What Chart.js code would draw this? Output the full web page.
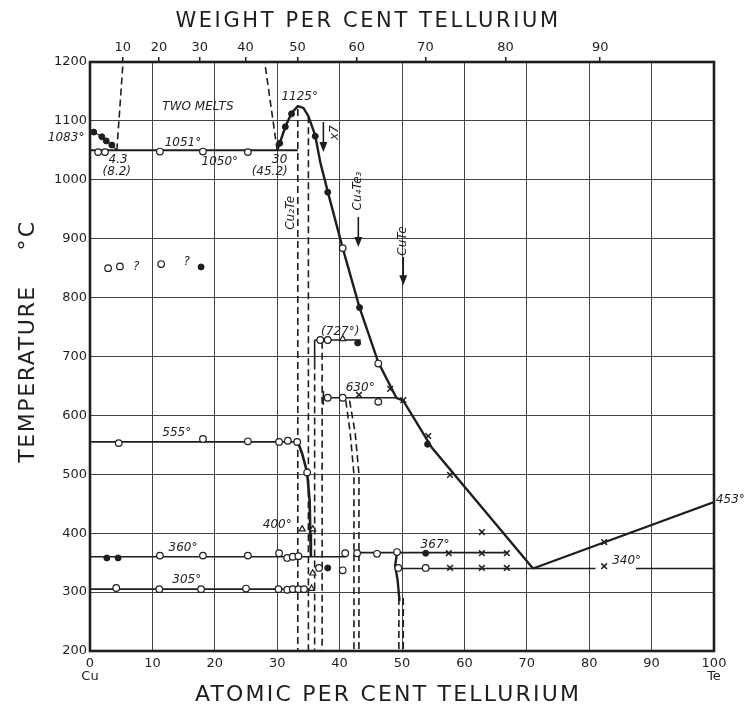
<!DOCTYPE html>
<html>
<head>
<meta charset="utf-8">
<script src="https://cdn.jsdelivr.net/npm/chart.js@4.4.0/dist/chart.umd.min.js"></script>
<style>body{margin:0;background:#fff}</style>
</head>
<body>
<canvas id="chart" width="753" height="707"></canvas>
<script>
// axis ticks
var atomicTicks = [0, 10, 20, 30, 40, 50, 60, 70, 80, 90, 100];
var weightTicks = [10, 20, 30, 40, 50, 60, 70, 80, 90];
var tempTicks = [200, 300, 400, 500, 600, 700, 800, 900, 1000, 1100, 1200];

// solid curves [at% Te, deg C]
var cuLiquidus = [[0, 1083], [0.6, 1081], [1.9, 1073], [2.6, 1066], [3.5, 1059], [4.3, 1050]];
var monotectic = [[0, 1050], [33.3, 1050]];
var cu2teLiquidus = [[30, 1050], [30.6, 1068], [31.3, 1090], [32.3, 1113], [33.3, 1125], [34.2, 1122], [35, 1108],
    [36.1, 1075], [36.9, 1030], [38.1, 980], [40.5, 884], [43.2, 783], [46.2, 690], [49.1, 630], [50.2, 625],
    [54.8, 545], [71, 340]];
var teLiquidus = [[71, 340], [100, 453]];
var line555 = [[0, 555], [33.3, 555]];
var solvus555 = [[33.3, 555], [34, 535], [34.8, 503], [35.2, 455], [35.3, 400], [35.4, 360]];
var line727 = [[36, 728], [43.4, 728]];
var stub727 = [[36, 728], [36, 690]];
var line630 = [[37.4, 630], [49.1, 630]];
var stub630 = [[37.4, 642], [37.4, 618]];
var line360 = [[0, 360], [41, 360]];
var line367 = [[42.3, 367], [67, 367]];
var line340a = [[49.4, 340], [81, 340]];
var line340b = [[87.5, 340], [100, 340]];
var line305 = [[0, 305], [36, 305]];
var cuteSolvus = [[49.2, 366], [48.9, 345], [49.3, 320], [49.6, 285]];

// dashed boundaries
var gapLeft = [[4.3, 1050], [5.3, 1200]];
var gapRight = [[30, 1050], [28, 1200]];
var dashA = [[33.3, 1120], [33.3, 200]];
var dashB = [[35, 1108], [35, 200]];
var dashC = [[36, 690], [36, 200]];
var dashD = [[37.2, 725], [37.2, 200]];
var dashE = [[41, 625], [41.7, 570], [42.3, 500], [42.3, 200]];
var dashF = [[41.6, 625], [42.5, 570], [43.1, 500], [43.1, 200]];
var dashG = [[49.5, 290], [49.5, 200]];
var dashH = [[50.2, 290], [50.2, 200]];

// measured points
var filledPts = [[0.6, 1081], [1.9, 1073], [2.6, 1066], [3.5, 1059], [30.4, 1062], [31.3, 1090], [32.3, 1112],
    [36.1, 1074], [38.1, 979], [43.2, 783], [54.1, 551], [42.9, 723], [38.1, 341], [2.7, 358], [4.5, 358],
    [17.8, 852], [53.8, 366]];
var openPts = [[40.5, 884], [46.2, 688], [1.3, 1047], [2.4, 1047], [11.2, 1048], [18.1, 1048], [25.3, 1047],
    [4.6, 553], [18.1, 560], [25.3, 556], [30.3, 555], [31.7, 557], [33.2, 555], [34.8, 503],
    [36.9, 728], [38.1, 728], [38.1, 630], [40.5, 630], [46.2, 623],
    [11.2, 362], [18.1, 362], [25.3, 362], [30.3, 366], [31.6, 358], [32.5, 360], [33.4, 361],
    [36.7, 341], [40.5, 337], [40.9, 366], [42.8, 366], [46, 365], [49.2, 368],
    [4.2, 307], [11.1, 305], [17.8, 305], [25, 306], [30.2, 305], [31.6, 304], [32.5, 305], [33.4, 305], [34.3, 305],
    [49.4, 341], [53.8, 341], [2.9, 850], [4.8, 853], [11.4, 857]];
var crossPts = [[43.1, 635], [48.1, 645], [50.2, 626], [54.2, 565], [57.7, 499], [62.8, 402], [57.5, 366],
    [62.8, 366], [66.8, 366], [57.7, 341], [62.8, 341], [66.8, 341], [82.4, 344], [82.4, 385]];
var triPts = [[40.5, 730], [34, 407], [35.7, 407], [35.7, 332], [35.5, 306]];

// text on the chart [text, at%, deg C, align]
var notes = [
    ['1083°', -0.9, 1072, 'right'], ['TWO MELTS', 17.3, 1124], ['1125°', 33.6, 1140],
    ['1051°', 14.9, 1062], ['1050°', 20.8, 1030], ['4.3', 4.5, 1034], ['(8.2)', 4.3, 1013],
    ['30', 30.4, 1034], ['(45.2)', 28.8, 1013], ['555°', 13.9, 570], ['(727°)', 40.1, 742],
    ['630°', 43.3, 647], ['400°', 30, 414], ['360°', 14.9, 375], ['305°', 15.5, 321],
    ['367°', 55.3, 380], ['340°', 86, 353], ['453°', 100.3, 456, 'left'], ['?', 7.4, 853], ['?', 15.5, 860]
];
var sideNotes = [['Cu₂Te', 32.2, 944], ['Cu₄Te₃', 43, 981], ['CuTe', 50.2, 896], ['x7', 39.3, 1080]];
var arrows = [[37.4, 1098, 1047], [43, 937, 886], [50.2, 869, 821]];
var elements = [['Cu', 0, 157], ['Te', 100, 157]];

function wtToAt(w) {
    var te = w / 127.6, cu = (100 - w) / 63.55;
    return te / (te + cu) * 100;
}
function pts(a) { return a.map(function (p) { return { x: p[0], y: p[1] }; }); }

var ink = '#1e1e1e';
function solid(a, w) {
    return { data: pts(a), showLine: true, borderColor: ink, borderWidth: w || 1.6, pointRadius: 0, order: 2 };
}
function dashed(a) {
    return { data: pts(a), showLine: true, borderColor: ink, borderWidth: 1.6, borderDash: [7, 4], pointRadius: 0, order: 2 };
}

var datasets = [
    { data: pts(filledPts), pointStyle: 'circle', pointRadius: 3, backgroundColor: ink, borderColor: ink, order: 0 },
    { data: pts(openPts), pointStyle: 'circle', pointRadius: 3.3, backgroundColor: '#fff', borderColor: ink, borderWidth: 1.2, order: 0 },
    { data: pts(crossPts), pointStyle: 'crossRot', pointRadius: 4, borderColor: ink, borderWidth: 1.5, order: 0 },
    { data: pts(triPts), pointStyle: 'triangle', pointRadius: 3.5, backgroundColor: '#fff', borderColor: ink, borderWidth: 1.2, order: 0 },
    solid(cuLiquidus, 1.2), solid(monotectic, 2), solid(cu2teLiquidus, 2.4), solid(teLiquidus, 2.2),
    solid(line555), solid(solvus555, 2.6), solid(line727), solid(stub727), solid(line630), solid(stub630),
    solid(line360), solid(line367), solid(line340a), solid(line340b), solid(line305), solid(cuteSolvus, 2.4),
    dashed(gapLeft), dashed(gapRight), dashed(dashA), dashed(dashB), dashed(dashC), dashed(dashD),
    dashed(dashE), dashed(dashF), dashed(dashG), dashed(dashH)
];

var hand = { family: 'DejaVu Sans', size: 13 };

var paperText = {
    id: 'paperText',
    afterDatasetsDraw: function (chart) {
        var ctx = chart.ctx, a = chart.chartArea;
        var sx = chart.scales.x, sy = chart.scales.y;
        ctx.save();
        ctx.strokeStyle = ink;
        ctx.lineWidth = 2.6;
        ctx.strokeRect(a.left, a.top, a.right - a.left, a.bottom - a.top);

        ctx.fillStyle = ink;
        ctx.textBaseline = 'middle';
        ctx.font = 'italic 12px "DejaVu Sans"';
        notes.forEach(function (n) {
            ctx.textAlign = n[3] || 'center';
            ctx.fillText(n[0], sx.getPixelForValue(n[1]), sy.getPixelForValue(n[2]));
        });
        ctx.font = '13px "DejaVu Sans"';
        ctx.textAlign = 'center';
        elements.forEach(function (n) {
            ctx.fillText(n[0], sx.getPixelForValue(n[1]), sy.getPixelForValue(n[2]));
        });
        ctx.font = 'italic 12px "DejaVu Sans"';
        sideNotes.forEach(function (n) {
            ctx.save();
            ctx.translate(sx.getPixelForValue(n[1]), sy.getPixelForValue(n[2]));
            ctx.rotate(-Math.PI / 2);
            ctx.fillText(n[0], 0, 0);
            ctx.restore();
        });
        ctx.lineWidth = 1.6;
        arrows.forEach(function (r) {
            var x = sx.getPixelForValue(r[0]), y1 = sy.getPixelForValue(r[1]), y2 = sy.getPixelForValue(r[2]);
            ctx.beginPath();
            ctx.moveTo(x, y1);
            ctx.lineTo(x, y2 - 8);
            ctx.stroke();
            ctx.beginPath();
            ctx.moveTo(x - 4, y2 - 10);
            ctx.lineTo(x + 4, y2 - 10);
            ctx.lineTo(x, y2);
            ctx.closePath();
            ctx.fill();
        });

        // axis titles
        ctx.font = '21px "DejaVu Sans"';
        ctx.letterSpacing = '2.6px';
        ctx.textAlign = 'center';
        ctx.fillText('WEIGHT PER CENT TELLURIUM', 368, 22);
        ctx.font = '22px "DejaVu Sans"';
        ctx.letterSpacing = '2.2px';
        ctx.fillText('ATOMIC PER CENT TELLURIUM', 388, 695);
        ctx.save();
        ctx.translate(28, 374);
        ctx.rotate(-Math.PI / 2);
        ctx.letterSpacing = '1.6px';
        ctx.fillText('TEMPERATURE', 0, 0);
        ctx.restore();
        ctx.save();
        ctx.translate(28, 235);
        ctx.rotate(-Math.PI / 2);
        ctx.fillText('°C', 0, 0);
        ctx.restore();
        ctx.restore();
    }
};

function plain(v) { return String(Math.round(v)); }

new Chart(document.getElementById('chart').getContext('2d'), {
    type: 'scatter',
    data: { datasets: datasets },
    options: {
        responsive: false,
        animation: false,
        layout: { padding: { left: 0, right: 39, top: 0, bottom: 0 } },
        plugins: { legend: { display: false }, tooltip: { enabled: false } },
        scales: {
            x: {
                type: 'linear', position: 'bottom', min: 0, max: 100,
                afterBuildTicks: function (s) { s.ticks = atomicTicks.map(function (v) { return { value: v }; }); },
                ticks: { font: hand, color: ink, padding: 5, maxRotation: 0, autoSkip: false, callback: plain },
                grid: { color: '#444', lineWidth: 1, drawTicks: false },
                border: { display: false },
                afterFit: function (s) { s.height = 56; }
            },
            x2: {
                type: 'linear', position: 'top', min: 0, max: 100,
                afterBuildTicks: function (s) { s.ticks = weightTicks.map(function (w) { return { value: wtToAt(w) }; }); },
                ticks: {
                    font: hand, color: ink, padding: 2, maxRotation: 0, autoSkip: false,
                    callback: function (v, i) { return weightTicks[i]; }
                },
                grid: { drawOnChartArea: false, tickLength: 5, color: ink, lineWidth: 1.5 },
                border: { display: false },
                afterFit: function (s) { s.height = 62; }
            },
            y: {
                type: 'linear', min: 200, max: 1200,
                afterBuildTicks: function (s) { s.ticks = tempTicks.map(function (v) { return { value: v }; }); },
                ticks: { font: hand, color: ink, padding: 3, callback: plain },
                grid: { color: '#444', lineWidth: 1, drawTicks: false },
                border: { display: false },
                afterFit: function (s) { s.width = 90; }
            }
        }
    },
    plugins: [paperText]
});
</script>
</body>
</html>
